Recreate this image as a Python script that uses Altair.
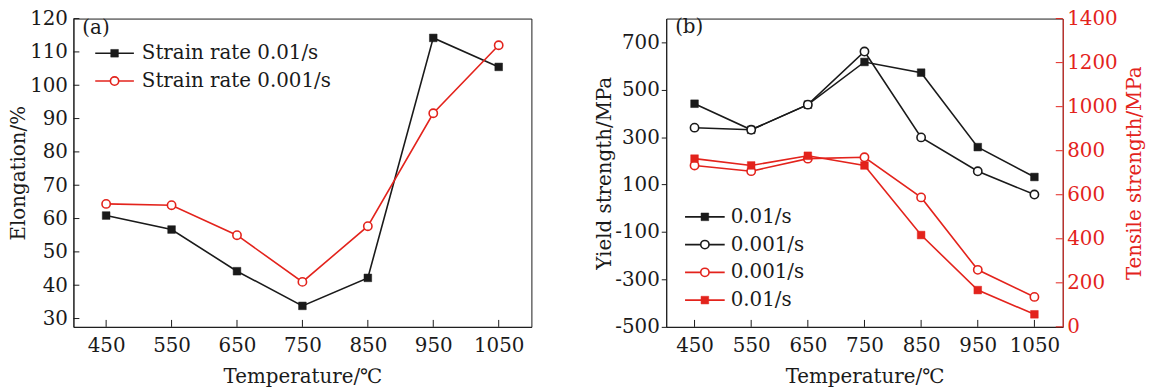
import altair as alt
import pandas as pd

# ---------------- data ----------------
temps = [450, 550, 650, 750, 850, 950, 1050]
elong_fast = [60.9, 56.7, 44.2, 33.8, 42.2, 114.2, 105.5]   # strain rate 0.01/s
elong_slow = [64.4, 64.0, 55.0, 41.0, 57.7, 91.6, 112.0]    # strain rate 0.001/s
yield_fast = [441, 331, 437, 617, 572, 258, 132]
yield_slow = [340, 331, 437, 661, 299, 156, 58]
tensile_fast = [764, 733, 777, 733, 417, 167, 57]
tensile_slow = [733, 707, 764, 770, 588, 259, 136]

x_ticks = [450, 550, 650, 750, 850, 950, 1050]
elong_ticks = [30, 40, 50, 60, 70, 80, 90, 100, 110, 120]
yield_ticks = [-500, -300, -100, 100, 300, 500, 700]
tensile_ticks = [0, 200, 400, 600, 800, 1000, 1200, 1400]

FONT = "DejaVu Serif"
RED = "#e3231c"
BLACK = "#1a1a1a"
FS = 20

W1, W2, H = 462, 400, 311

xscale = alt.Scale(domain=[400, 1100], nice=False, zero=False)
elong_scale = alt.Scale(domain=[27.5, 120], nice=False, zero=False)
yield_scale = alt.Scale(domain=[-500, 800], nice=False, zero=False)
tensile_scale = alt.Scale(domain=[0, 1400], nice=False, zero=False)

dummy = pd.DataFrame({"d": [0]})

X_AXIS = alt.Axis(values=x_ticks, format="d", tickSize=0, labelPadding=9, title="Temperature/℃",
                  titlePadding=11, grid=False, labelFlush=False)
ELONG_AXIS = alt.Axis(values=elong_ticks, format="d", tickSize=0, labelPadding=6,
                      title="Elongation/%", titlePadding=1, grid=False)
YIELD_AXIS = alt.Axis(values=yield_ticks, tickSize=5, labelPadding=2, title="Yield strength/MPa",
                      labelExpr="datum.value < 0 ? '-' + (-datum.value) : '' + datum.value",
                      titlePadding=0, grid=False)
TENSILE_AXIS = alt.Axis(values=tensile_ticks, format="d", orient="right", tickSize=0, labelPadding=4,
                        title="Tensile strength/MPa", titlePadding=8, titleAngle=270,
                        titleBaseline="top",
                        grid=False, domainColor=RED, labelColor=RED, titleColor=RED)


def series_layers(vals, color, shape, hollow, yscale, yaxis):
    df = pd.DataFrame({"T": temps, "v": vals})
    enc = dict(x=alt.X("T:Q", scale=xscale, axis=X_AXIS),
               y=alt.Y("v:Q", scale=yscale, axis=yaxis))
    line = alt.Chart(df).mark_line(color=color, strokeWidth=1.6).encode(**enc)
    if hollow:
        pm = alt.Chart(df).mark_point(shape=shape, filled=True, fill="white", stroke=color,
                                      strokeWidth=1.6, size=70, opacity=1)
    else:
        pm = alt.Chart(df).mark_point(shape=shape, filled=True, fill=color, stroke=color,
                                      strokeWidth=0.5, size=60, opacity=1)
    return [line, pm.encode(**enc)]


def legend_entry(x0, x1, y, tx, label, color, shape, hollow):
    rule = alt.Chart(dummy).mark_rule(color=color, strokeWidth=1.6).encode(
        x=alt.value(x0), x2=alt.value(x1), y=alt.value(y))
    if hollow:
        pm = alt.Chart(dummy).mark_point(shape=shape, filled=True, fill="white", stroke=color,
                                         strokeWidth=1.6, size=70, opacity=1)
    else:
        pm = alt.Chart(dummy).mark_point(shape=shape, filled=True, fill=color, stroke=color,
                                         strokeWidth=0.5, size=60, opacity=1)
    pt = pm.encode(x=alt.value((x0 + x1) / 2), y=alt.value(y))
    txt = alt.Chart(dummy).mark_text(align="left", baseline="middle", font=FONT,
                                     fontSize=FS, color=BLACK).encode(
        x=alt.value(tx), y=alt.value(y), text=alt.value(label))
    return [rule, pt, txt]


def label_text(x, y, s):
    return alt.Chart(dummy).mark_text(align="left", baseline="middle", font=FONT,
                                      fontSize=FS, color=BLACK).encode(
        x=alt.value(x), y=alt.value(y), text=alt.value(s))


xt_df = pd.DataFrame({"t": x_ticks})


def x_tick_rules():
    return alt.Chart(xt_df).mark_rule(color=BLACK, strokeWidth=1).encode(
        x=alt.X("t:Q", scale=xscale, axis=X_AXIS), y=alt.value(H), y2=alt.value(H - 7))


# ---------------- panel (a) ----------------
a_layers = []
a_layers += series_layers(elong_fast, BLACK, "square", False, elong_scale, ELONG_AXIS)
a_layers += series_layers(elong_slow, RED, "circle", True, elong_scale, ELONG_AXIS)
a_layers.append(x_tick_rules())
et_df = pd.DataFrame({"t": elong_ticks})
a_layers.append(alt.Chart(et_df).mark_rule(color=BLACK, strokeWidth=1).encode(
    y=alt.Y("t:Q", scale=elong_scale, axis=ELONG_AXIS), x=alt.value(0), x2=alt.value(6)))
a_layers += legend_entry(22, 61, 35, 69, "Strain rate 0.01/s", BLACK, "square", False)
a_layers += legend_entry(22, 61, 63, 69, "Strain rate 0.001/s", RED, "circle", True)
a_layers.append(label_text(9, 10, "(a)"))

panel_a = alt.layer(*a_layers).properties(width=W1, height=H)

# ---------------- panel (b) ----------------
y_layers = []
y_layers += series_layers(yield_fast, BLACK, "square", False, yield_scale, YIELD_AXIS)
y_layers += series_layers(yield_slow, BLACK, "circle", True, yield_scale, YIELD_AXIS)
y_layers.append(x_tick_rules())
y_layers += legend_entry(19, 59, 200, 65, "0.01/s", BLACK, "square", False)
y_layers += legend_entry(19, 59, 228, 65, "0.001/s", BLACK, "circle", True)
y_layers += legend_entry(19, 59, 256, 65, "0.001/s", RED, "circle", True)
y_layers += legend_entry(19, 59, 284, 65, "0.01/s", RED, "square", False)
y_layers.append(label_text(9, 9, "(b)"))

t_layers = []
t_layers += series_layers(tensile_slow, RED, "circle", True, tensile_scale, TENSILE_AXIS)
t_layers += series_layers(tensile_fast, RED, "square", False, tensile_scale, TENSILE_AXIS)
tt_df = pd.DataFrame({"t": tensile_ticks})
t_layers.append(alt.Chart(tt_df).mark_rule(color=RED, strokeWidth=1).encode(
    y=alt.Y("t:Q", scale=tensile_scale, axis=TENSILE_AXIS), x=alt.value(W2), x2=alt.value(W2 - 7)))

panel_b = alt.layer(alt.layer(*y_layers), alt.layer(*t_layers)).resolve_scale(
    y="independent").resolve_axis(y="independent").properties(width=W2, height=H)

chart = alt.hconcat(panel_a, panel_b, spacing=62).properties(
    padding={"left": 0, "top": -2, "right": 0, "bottom": 0}
).configure_view(stroke=BLACK, strokeWidth=1).configure_axis(
    labelFont=FONT, titleFont=FONT, labelFontSize=FS, titleFontSize=FS,
    titleFontWeight="normal", domainColor=BLACK, tickColor=BLACK, labelColor=BLACK,
    titleColor=BLACK, domainWidth=1
)

chart.save("out.html", embed_options={"renderer": "svg", "actions": False})
